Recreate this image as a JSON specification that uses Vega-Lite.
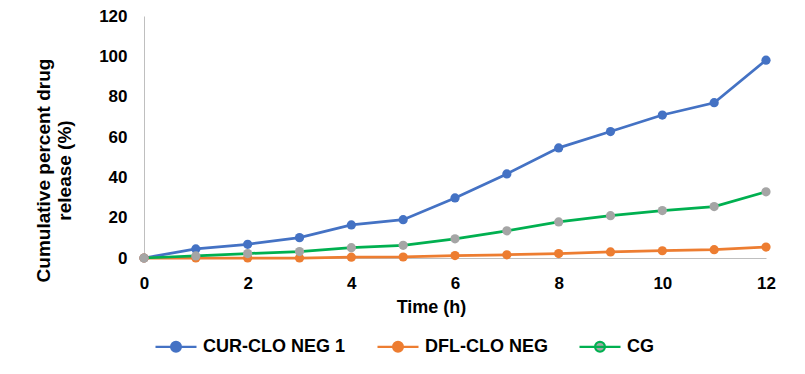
{
  "$schema": "https://vega.github.io/schema/vega-lite/v6.json",
  "width": 622,
  "height": 242,
  "autosize": {"type": "none"},
  "padding": {"left": 144, "top": 16, "right": 39, "bottom": 116},
  "background": "white",
  "config": {"view": {"stroke": null}, "font": "Liberation Sans"},
  "data": {
    "values": [
      {"time": 0, "series": "CUR-CLO NEG 1", "value": 0},
      {"time": 1, "series": "CUR-CLO NEG 1", "value": 4.5},
      {"time": 2, "series": "CUR-CLO NEG 1", "value": 6.8},
      {"time": 3, "series": "CUR-CLO NEG 1", "value": 10.1},
      {"time": 4, "series": "CUR-CLO NEG 1", "value": 16.4},
      {"time": 5, "series": "CUR-CLO NEG 1", "value": 19.0},
      {"time": 6, "series": "CUR-CLO NEG 1", "value": 29.8},
      {"time": 7, "series": "CUR-CLO NEG 1", "value": 41.7},
      {"time": 8, "series": "CUR-CLO NEG 1", "value": 54.6},
      {"time": 9, "series": "CUR-CLO NEG 1", "value": 62.7},
      {"time": 10, "series": "CUR-CLO NEG 1", "value": 70.9},
      {"time": 11, "series": "CUR-CLO NEG 1", "value": 77.0},
      {"time": 12, "series": "CUR-CLO NEG 1", "value": 98.1},
      {"time": 0, "series": "DFL-CLO NEG", "value": 0},
      {"time": 1, "series": "DFL-CLO NEG", "value": 0},
      {"time": 2, "series": "DFL-CLO NEG", "value": 0},
      {"time": 3, "series": "DFL-CLO NEG", "value": 0},
      {"time": 4, "series": "DFL-CLO NEG", "value": 0.4},
      {"time": 5, "series": "DFL-CLO NEG", "value": 0.5},
      {"time": 6, "series": "DFL-CLO NEG", "value": 1.2},
      {"time": 7, "series": "DFL-CLO NEG", "value": 1.6},
      {"time": 8, "series": "DFL-CLO NEG", "value": 2.2},
      {"time": 9, "series": "DFL-CLO NEG", "value": 3.0},
      {"time": 10, "series": "DFL-CLO NEG", "value": 3.6},
      {"time": 11, "series": "DFL-CLO NEG", "value": 4.1},
      {"time": 12, "series": "DFL-CLO NEG", "value": 5.4},
      {"time": 0, "series": "CG", "value": 0},
      {"time": 1, "series": "CG", "value": 1.0},
      {"time": 2, "series": "CG", "value": 2.2},
      {"time": 3, "series": "CG", "value": 3.2},
      {"time": 4, "series": "CG", "value": 5.1},
      {"time": 5, "series": "CG", "value": 6.3},
      {"time": 6, "series": "CG", "value": 9.5},
      {"time": 7, "series": "CG", "value": 13.5},
      {"time": 8, "series": "CG", "value": 17.9},
      {"time": 9, "series": "CG", "value": 21.0},
      {"time": 10, "series": "CG", "value": 23.5},
      {"time": 11, "series": "CG", "value": 25.5},
      {"time": 12, "series": "CG", "value": 32.8}
    ]
  },
  "encoding": {
    "x": {
      "field": "time",
      "type": "quantitative",
      "scale": {"domain": [0, 12], "nice": false},
      "axis": {
        "values": [0, 2, 4, 6, 8, 10, 12],
        "title": "Time (h)",
        "titleFont": "Liberation Sans",
        "titleFontSize": 18,
        "titleFontWeight": "bold",
        "titleColor": "#000000",
        "titleX": 287,
        "titleY": 40,
        "titleBaseline": "top",
        "grid": false,
        "ticks": false,
        "domainColor": "#BFBFBF",
        "domainWidth": 1,
        "labelFont": "Liberation Sans",
        "labelFontSize": 17,
        "labelFontWeight": "bold",
        "labelColor": "#000000",
        "labelPadding": 17,
        "labelFlush": false
      }
    },
    "y": {
      "field": "value",
      "type": "quantitative",
      "scale": {"domain": [0, 120], "nice": false},
      "axis": {
        "values": [0, 20, 40, 60, 80, 100, 120],
        "title": ["Cumulative percent drug", "release (%)"],
        "titleFont": "Liberation Sans",
        "titleFontSize": 19,
        "titleFontWeight": "bold",
        "titleColor": "#000000",
        "titleAngle": 270,
        "titleAlign": "center",
        "titleBaseline": "top",
        "titleLineHeight": 21,
        "titleX": -110,
        "titleY": 154,
        "grid": false,
        "ticks": false,
        "domainColor": "#BFBFBF",
        "domainWidth": 1,
        "labelFont": "Liberation Sans",
        "labelFontSize": 17,
        "labelFontWeight": "bold",
        "labelColor": "#000000",
        "labelPadding": 17,
        "labelFlush": false
      }
    }
  },
  "layer": [
    {
      "mark": {"type": "line", "strokeWidth": 2.75},
      "encoding": {
        "stroke": {
          "field": "series",
          "type": "nominal",
          "scale": {
            "domain": ["CUR-CLO NEG 1", "DFL-CLO NEG", "CG"],
            "range": ["#4472C4", "#ED7D31", "#00B050"]
          },
          "legend": {
            "title": null,
            "orient": "none",
            "direction": "horizontal",
            "legendX": 10,
            "legendY": 308.5,
            "symbolType": "M-1,0H1M-0.24,0A0.24,0.24,0,1,0,0.24,0A0.24,0.24,0,1,0,-0.24,0Z",
            "symbolSize": 1681,
            "symbolStrokeWidth": 2.2,
            "symbolOpacity": 1,
            "labelFont": "Liberation Sans",
            "labelFontSize": 18,
            "labelFontWeight": "bold",
            "labelColor": "#000000",
            "labelOffset": 5,
            "columnPadding": 27
          }
        }
      }
    },
    {
      "mark": {"type": "point", "filled": true, "size": 85, "opacity": 1},
      "encoding": {
        "fill": {
          "field": "series",
          "type": "nominal",
          "scale": {
            "domain": ["CUR-CLO NEG 1", "DFL-CLO NEG", "CG"],
            "range": ["#4472C4", "#ED7D31", "#A5A5A5"]
          },
          "legend": {
            "title": null,
            "orient": "none",
            "direction": "horizontal",
            "legendX": 10,
            "legendY": 308.5,
            "symbolType": "M-1,0H1M-0.24,0A0.24,0.24,0,1,0,0.24,0A0.24,0.24,0,1,0,-0.24,0Z",
            "symbolSize": 1681,
            "symbolStrokeWidth": 2.2,
            "symbolOpacity": 1,
            "labelFont": "Liberation Sans",
            "labelFontSize": 18,
            "labelFontWeight": "bold",
            "labelColor": "#000000",
            "labelOffset": 5,
            "columnPadding": 27
          }
        }
      }
    }
  ]
}
